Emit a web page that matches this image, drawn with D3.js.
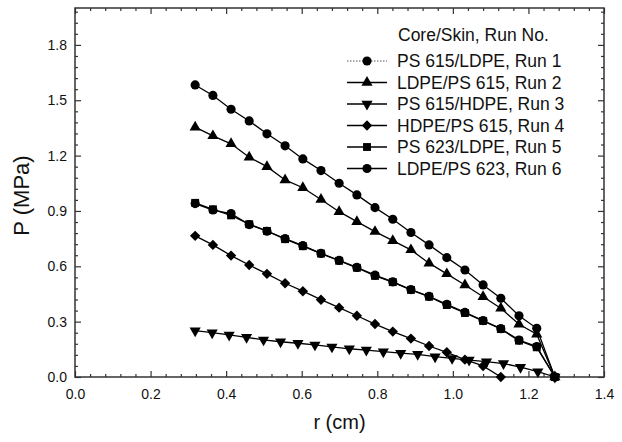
<!DOCTYPE html>
<html>
<head>
<meta charset="utf-8">
<script src="https://cdn.jsdelivr.net/npm/d3@7"></script>
<style>
  body { margin: 0; background: #fff; }
  svg { display: block; font-family: "Liberation Sans", Arial, sans-serif; }
</style>
</head>
<body>
<svg id="chart" width="622" height="442"></svg>
<script>
// ---- data ----
const rA = [0.318,0.365,0.413,0.461,0.508,0.556,0.603,0.651,0.699,0.746,0.794,0.841,0.889,0.937,0.984,1.032,1.080,1.127,1.175,1.222,1.270];
const rB = [0.318,0.363,0.408,0.454,0.499,0.544,0.590,0.635,0.680,0.726,0.771,0.816,0.862,0.907,0.953,0.998,1.043,1.089,1.134,1.179,1.225,1.270];

const run1 = [0.940,0.905,0.886,0.826,0.790,0.750,0.712,0.670,0.632,0.594,0.552,0.516,0.474,0.437,0.394,0.350,0.306,0.262,0.200,0.165,0];
const run2 = [1.354,1.307,1.264,1.191,1.140,1.068,1.026,0.962,0.896,0.842,0.788,0.739,0.689,0.617,0.559,0.499,0.435,0.373,0.286,0.232,0];
const run3 = [0.251,0.240,0.228,0.215,0.201,0.191,0.183,0.174,0.163,0.153,0.146,0.137,0.129,0.123,0.110,0.101,0.092,0.083,0.073,0.053,0.029,0];
const run4 = [0.765,0.716,0.658,0.607,0.559,0.508,0.465,0.419,0.376,0.332,0.287,0.246,0.208,0.168,0.134,0.094,0.060,0];
const run5 = [0.944,0.909,0.876,0.828,0.792,0.747,0.709,0.669,0.630,0.592,0.548,0.514,0.472,0.435,0.390,0.347,0.304,0.260,0.197,0.161,0];
const run6 = [1.583,1.526,1.451,1.388,1.318,1.253,1.182,1.119,1.050,0.987,0.918,0.855,0.783,0.716,0.647,0.580,0.499,0.427,0.332,0.264,0];

const seriesNames = ["PS 615/LDPE, Run 1","LDPE/PS 615, Run 2","PS 615/HDPE, Run 3","HDPE/PS 615, Run 4","PS 623/LDPE, Run 5","LDPE/PS 623, Run 6"];
const legendTitle = "Core/Skin, Run No.";
const xTicks = [0.0,0.2,0.4,0.6,0.8,1.0,1.2,1.4];
const yTicks = [0.0,0.3,0.6,0.9,1.2,1.5,1.8];
const xLabel = "r (cm)";
const yLabel = "P (MPa)";

// ---- layout ----
const L = 75, R = 604, T = 8, B = 377;
const svg = d3.select("#chart");
const x = d3.scaleLinear().domain([0, 1.4]).range([L, R]);
const y = d3.scaleLinear().domain([0, 2.0]).range([B, T]);

const axisColor = "#333";

function styleAxis(g) {
  g.select(".domain").remove();
  g.selectAll(".tick line").attr("stroke", axisColor).attr("stroke-width", 1.2);
  g.selectAll(".tick text").attr("fill", "#111").style("font-size", "14px")
    .style("font-family", "Liberation Sans, Arial, sans-serif");
}

const xMinor = d3.range(0, 1.4001, 0.04).filter(v => Math.abs(v/0.2 - Math.round(v/0.2)) > 1e-6);
const yMinor = d3.range(0, 2.0001, 0.06).filter(v => Math.abs(v/0.3 - Math.round(v/0.3)) > 1e-6);

// bottom
svg.append("g").attr("transform", `translate(0,${B})`)
  .call(d3.axisBottom(x).tickValues(xTicks).tickFormat(d3.format(".1f")).tickSizeInner(-6).tickSizeOuter(0).tickPadding(12))
  .call(styleAxis);
svg.append("g").attr("transform", `translate(0,${B})`)
  .call(d3.axisBottom(x).tickValues(xMinor).tickFormat("").tickSizeInner(-3).tickSizeOuter(0))
  .call(styleAxis);
// top
svg.append("g").attr("transform", `translate(0,${T})`)
  .call(d3.axisTop(x).tickValues(xTicks).tickFormat("").tickSizeInner(-6).tickSizeOuter(0))
  .call(styleAxis);
svg.append("g").attr("transform", `translate(0,${T})`)
  .call(d3.axisTop(x).tickValues(xMinor).tickFormat("").tickSizeInner(-3).tickSizeOuter(0))
  .call(styleAxis);
// left
svg.append("g").attr("transform", `translate(${L},0)`)
  .call(d3.axisLeft(y).tickValues(yTicks).tickFormat(d3.format(".1f")).tickSizeInner(-6).tickSizeOuter(0).tickPadding(8))
  .call(styleAxis);
svg.append("g").attr("transform", `translate(${L},0)`)
  .call(d3.axisLeft(y).tickValues(yMinor).tickFormat("").tickSizeInner(-3).tickSizeOuter(0))
  .call(styleAxis);
// right
svg.append("g").attr("transform", `translate(${R},0)`)
  .call(d3.axisRight(y).tickValues(yTicks).tickFormat("").tickSizeInner(-6).tickSizeOuter(0))
  .call(styleAxis);
svg.append("g").attr("transform", `translate(${R},0)`)
  .call(d3.axisRight(y).tickValues(yMinor).tickFormat("").tickSizeInner(-3).tickSizeOuter(0))
  .call(styleAxis);

// frame
svg.append("rect").attr("x", L).attr("y", T).attr("width", R - L).attr("height", B - T)
  .attr("fill", "none").attr("stroke", axisColor).attr("stroke-width", 1.5);

// axis titles
svg.append("text").attr("x", (L + R) / 2).attr("y", 429).attr("text-anchor", "middle")
  .style("font-size", "20px").attr("fill", "#111").text(xLabel);
svg.append("text").attr("transform", `translate(29,${(T + B) / 2 + 3}) rotate(-90)`).attr("text-anchor", "middle")
  .style("font-size", "22px").attr("fill", "#111").text(yLabel);

// ---- series ----
const sym = {
  circle: d3.symbol().type(d3.symbolCircle).size(66)(),
  triUp: d3.symbol().type(d3.symbolTriangle).size(54)(),
  square: d3.symbol().type(d3.symbolSquare).size(62)(),
  diamond: d3.symbol().type(d3.symbolSquare).size(54)()
};
const series = [
  { name: seriesNames[0], r: rA, p: run1, shape: "circle", rot: 0, dash: "1.5,1.5" },
  { name: seriesNames[1], r: rA, p: run2, shape: "triUp", rot: 0, dash: null },
  { name: seriesNames[2], r: rB, p: run3, shape: "triUp", rot: 180, dash: null },
  { name: seriesNames[3], r: rA, p: run4, shape: "diamond", rot: 45, dash: null },
  { name: seriesNames[4], r: rA, p: run5, shape: "square", rot: 0, dash: null },
  { name: seriesNames[5], r: rA, p: run6, shape: "circle", rot: 0, dash: null }
];
const drawOrder = [4, 0, 1, 2, 3, 5];

const line = d3.line().x(d => x(d[0])).y(d => y(d[1]));
drawOrder.forEach(i => {
  const s = series[i];
  const pts = s.r.slice(0, s.p.length).map((rv, j) => [rv, s.p[j]]);
  const g = svg.append("g");
  g.append("path").datum(pts).attr("d", line).attr("fill", "none")
    .attr("stroke", "#000").attr("stroke-width", 1.3);
  g.selectAll("path.m").data(pts).enter().append("path").attr("class", "m")
    .attr("d", sym[s.shape])
    .attr("transform", d => `translate(${x(d[0])},${y(d[1])}) rotate(${s.rot})`)
    .attr("fill", "#000");
});

// ---- legend ----
const legX1 = 347, legX2 = 387, legTextX = 397, legY0 = 61, legDY = 21.5;
svg.append("text").attr("x", 398).attr("y", 41).style("font-size", "17.5px").attr("fill", "#111").text(legendTitle);
series.forEach((s, i) => {
  const yy = legY0 + i * legDY;
  svg.append("line").attr("x1", legX1).attr("x2", legX2).attr("y1", yy).attr("y2", yy)
    .attr("stroke", s.dash ? "#555" : "#000").attr("stroke-width", s.dash ? 1 : 1.3)
    .attr("stroke-dasharray", s.dash);
  svg.append("path").attr("d", sym[s.shape])
    .attr("transform", `translate(${(legX1 + legX2) / 2},${yy}) rotate(${s.rot})`).attr("fill", "#000");
  svg.append("text").attr("x", legTextX).attr("y", yy + 6).style("font-size", "17.5px").attr("fill", "#111").text(s.name);
});
</script>
</body>
</html>
